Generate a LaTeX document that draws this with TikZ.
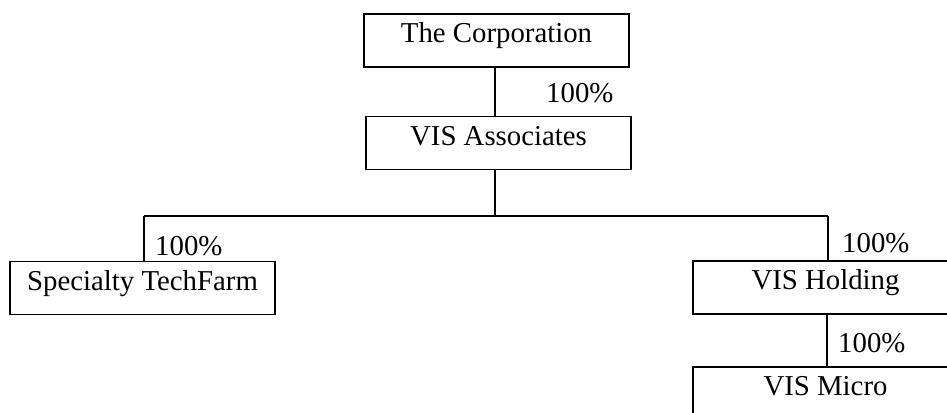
\documentclass[tikz,border=0pt]{standalone}
\usepackage{fontspec}
\setmainfont{Liberation Serif}
\usetikzlibrary{positioning}
\newcommand{\chartfont}{\fontsize{28.8}{34}\selectfont}

\begin{document}
\begin{tikzpicture}[
    x=1pt, y=-1pt,
    entity/.style={draw, line width=1.7pt, inner sep=0pt, minimum width=265pt,
        text height=28.5pt, text depth=24.5pt, font=\chartfont},
    pct/.style={anchor=base west, inner sep=0pt, font=\chartfont},
    link/.style={line width=1.7pt}
]
\path[use as bounding box] (0, 0) rectangle (947, 412);
\clip (0, 0) rectangle (947, 412);

% ---- Gesellschaften ----
\node[entity] (corp)    at (496.5, 40.5) {The Corporation};
\node[entity] (assoc)   at (498.5, 143)  {VIS Associates};
\node[entity] (tech)    at (142.5, 288)  {Specialty TechFarm};
\node[entity] (holding) at (825.5, 287.5) {VIS Holding};
\node[entity] (micro)   at (825.5, 393.5) {VIS Micro};

% ---- Verbindungen ----
\coordinate (trunk) at (495, 216);
\coordinate (busL)  at (144, 216);
\coordinate (busR)  at (828, 216);
\draw[link] (trunk |- corp.south) -- (trunk |- assoc.north);
\draw[link] (trunk |- assoc.south) -- (trunk);
\draw[link] (busL) -- (busR);
\draw[link] (busL) -- (busL |- tech.north);
\draw[link] (busR) -- (busR |- holding.north);
\draw[link] ([xshift=-1pt]busR |- holding.south) -- ([xshift=-1pt]busR |- micro.north);

% ---- Anteile ----
\node[pct] (pctassoc)   at (546, 102) {100\%};
\node[pct] (pcttech)    at (155, 255) {100\%};
\node[pct] (pctholding) at (842, 252) {100\%};
\node[pct] (pctmicro)   at (838, 352) {100\%};

\end{tikzpicture}
\end{document}
